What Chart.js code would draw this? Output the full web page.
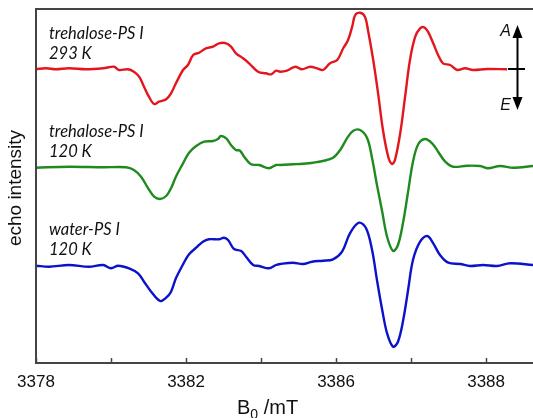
<!DOCTYPE html>
<html>
<head>
<meta charset="utf-8">
<script src="https://cdn.jsdelivr.net/npm/chart.js@4/dist/chart.umd.min.js"></script>
<style>
  html, body { margin: 0; padding: 0; background: #fff; overflow: hidden; }
  #wrap { width: 533px; height: 418px; }
</style>
</head>
<body>
<div id="wrap"><canvas id="chart" width="533" height="418"></canvas></div>
<script>
// field in mT, echo intensity (arbitrary units, relative to each trace's baseline)
var trehalose293 = [
  [3378.00, 0], [3378.27, 0.7], [3378.53, -0.3], [3378.88, 0.7], [3379.33, -0.3], [3379.79, 0.7],
  [3380.08, 2.3], [3380.21, -1], [3380.45, -0.3], [3380.61, -2.7], [3380.75, -7.7], [3380.88, -17.7],
  [3381.01, -27.7], [3381.15, -35], [3381.28, -32.7], [3381.47, -30.3], [3381.60, -24.3], [3381.73, -14.3],
  [3381.92, -1], [3382.05, 4], [3382.19, 14], [3382.35, 16.3], [3382.53, 20.7], [3382.72, 22.3],
  [3382.88, 25.7], [3383.07, 25.7], [3383.20, 22.3], [3383.33, 15.7], [3383.52, 10.7], [3383.68, 5.7],
  [3383.92, -2.7], [3384.13, -4.3], [3384.27, -5.3], [3384.40, -1.7], [3384.51, -2.7], [3384.69, -1.7],
  [3384.91, 2.3], [3385.09, -0.3], [3385.31, 2.3], [3385.49, 0.7], [3385.65, -1], [3385.84, 5.7],
  [3386.03, 9], [3386.19, 20.7], [3386.32, 29], [3386.43, 42.3], [3386.51, 54], [3386.64, 56.3],
  [3386.77, 52.3], [3386.85, 39], [3386.99, 9], [3387.12, -24.3], [3387.25, -61], [3387.39, -87.7],
  [3387.49, -95], [3387.57, -91], [3387.71, -64.3], [3387.84, -27.7], [3387.97, 9], [3388.11, 32.3],
  [3388.24, 40.7], [3388.35, 41.7], [3388.45, 37.3], [3388.59, 25.7], [3388.72, 14], [3388.85, 5.7],
  [3389.04, 4], [3389.23, -1], [3389.44, 0.7], [3389.65, -1], [3390.03, 0], [3390.56, -0.3]
];
var trehalose120 = [
  [3378.00, -0.7], [3378.88, 0.3], [3379.79, -0.3], [3380.40, -0.3], [3380.61, -3], [3380.80, -9.7],
  [3380.99, -21.3], [3381.15, -29.7], [3381.31, -32], [3381.47, -29], [3381.60, -21.3], [3381.73, -9.7],
  [3381.92, 3.7], [3382.08, 14.3], [3382.27, 21], [3382.48, 25.3], [3382.72, 26], [3382.85, 28],
  [3382.93, 31], [3383.07, 28.7], [3383.20, 22], [3383.33, 17], [3383.44, 16.3], [3383.55, 10.3],
  [3383.73, 2.7], [3383.95, 2], [3384.21, -1.3], [3384.40, 2], [3384.51, 2], [3384.85, 2.7],
  [3385.12, 3.3], [3385.39, 4.3], [3385.65, 6], [3385.92, 9.3], [3386.11, 17], [3386.29, 28.7],
  [3386.45, 36], [3386.64, 37], [3386.83, 28.7], [3386.96, 8.7], [3387.09, -18], [3387.23, -44.7],
  [3387.36, -69.7], [3387.52, -84], [3387.65, -78], [3387.79, -54.7], [3387.92, -24.7], [3388.05, 5.3],
  [3388.19, 22.7], [3388.37, 28], [3388.56, 23.7], [3388.72, 15.3], [3388.91, 5.3], [3389.12, 0.3],
  [3389.49, 1.3], [3389.84, 1], [3390.05, -1.3], [3390.37, 1], [3390.72, -0.7], [3391.25, 1]
];
var water120 = [
  [3378.00, -0.7], [3378.35, -1.7], [3378.88, 0], [3379.41, -1.7], [3379.79, 0], [3380.00, -3.3],
  [3380.19, -0.7], [3380.48, -3.3], [3380.72, -8.3], [3380.88, -16.7], [3381.07, -26.7], [3381.31, -36],
  [3381.47, -32.7], [3381.60, -26.7], [3381.73, -13.3], [3381.92, 0.7], [3382.08, 10.7], [3382.27, 17.3],
  [3382.45, 23.3], [3382.61, 25.7], [3382.88, 25.7], [3383.01, 27.3], [3383.12, 25], [3383.28, 16],
  [3383.47, 14], [3383.60, 8.3], [3383.79, 0], [3383.95, -1], [3384.21, -3.3], [3384.40, 0],
  [3384.51, 1], [3384.85, 2.3], [3385.12, 1], [3385.36, 3.3], [3385.65, 4.3], [3385.92, 5.7],
  [3386.16, 13.3], [3386.37, 31.7], [3386.61, 42.3], [3386.80, 36.7], [3386.96, 15], [3387.09, -15],
  [3387.23, -45], [3387.36, -68.3], [3387.52, -81.7], [3387.65, -76.7], [3387.79, -55], [3387.92, -25],
  [3388.05, 5], [3388.24, 23.3], [3388.43, 29], [3388.59, 21.7], [3388.77, 10], [3388.99, 2.3],
  [3389.31, 1], [3389.57, -1], [3389.92, 0], [3390.29, -1], [3390.64, 1.7], [3391.25, 0]
];

var seriesNames = ['trehalose-PS I', 'trehalose-PS I', 'water-PS I'];
var seriesTemps = ['293 K', '120 K', '120 K'];
var seriesColors = ['#e3161d', '#1f8a1f', '#0b12c9'];
var baselineOffsets = [294, 196, 98];

var tickValues = [3378, 3380, 3382, 3384, 3386, 3388, 3390];
var tickLabels = ['3378', '', '3382', '', '3386', '', '3388'];

function toPoints(arr, offset) {
    return arr.map(function(p){ return {x: p[0], y: p[1] + offset}; });
}

var decorations = {
    id: 'decorations',
    afterDraw: function(chart) {
        var ctx = chart.ctx;
        var area = chart.chartArea;
        var xs = chart.scales.x;
        var ys = chart.scales.y;
        ctx.save();

        // frame: left and top lines
        ctx.strokeStyle = '#444';
        ctx.lineWidth = 2;
        ctx.beginPath();
        ctx.moveTo(area.left, area.bottom);
        ctx.lineTo(area.left, area.top);
        ctx.lineTo(area.right + 2, area.top);
        ctx.stroke();

        // inward ticks on the field axis
        ctx.lineWidth = 1.5;
        tickValues.forEach(function(v){
            var px = Math.round(xs.getPixelForValue(v)) + 0.5;
            ctx.beginPath();
            ctx.moveTo(px, area.bottom);
            ctx.lineTo(px, area.bottom - 5);
            ctx.stroke();
        });

        // y title
        ctx.fillStyle = '#111';
        ctx.font = '19px "Liberation Sans", Arial, sans-serif';
        ctx.textAlign = 'center';
        ctx.textBaseline = 'middle';
        ctx.save();
        ctx.translate(16, 188);
        ctx.rotate(-Math.PI / 2);
        ctx.fillText('echo intensity', 0, 0);
        ctx.restore();

        // x title with subscript
        ctx.textAlign = 'left';
        ctx.textBaseline = 'alphabetic';
        var tx = 237, ty = 414;
        ctx.font = '20px "Liberation Sans", Arial, sans-serif';
        ctx.fillText('B', tx, ty);
        tx += ctx.measureText('B').width;
        ctx.font = '14px "Liberation Sans", Arial, sans-serif';
        ctx.fillText('0', tx, ty + 5);
        tx += ctx.measureText('0').width;
        ctx.font = '20px "Liberation Sans", Arial, sans-serif';
        ctx.fillText(' /mT', tx, ty);

        // trace labels
        ctx.fillStyle = '#111';
        ctx.font = 'italic 16.5px Lato, "Open Sans", sans-serif';
        baselineOffsets.forEach(function(off, i){
            var by = ys.getPixelForValue(off);
            ctx.fillText(seriesNames[i], 49, by - 30);
            ctx.fillText(seriesTemps[i], 49, by - 10);
        });

        // absorption / emission arrow
        var ax = 517.5;
        var ay = ys.getPixelForValue(baselineOffsets[0]);
        ctx.strokeStyle = '#000';
        ctx.fillStyle = '#000';
        ctx.lineWidth = 2;
        ctx.beginPath();
        ctx.moveTo(ax, 36);
        ctx.lineTo(ax, 98);
        ctx.moveTo(508, ay);
        ctx.lineTo(525, ay);
        ctx.stroke();
        ctx.beginPath();
        ctx.moveTo(ax, 25);
        ctx.lineTo(ax - 5, 38);
        ctx.lineTo(ax + 5, 38);
        ctx.closePath();
        ctx.fill();
        ctx.beginPath();
        ctx.moveTo(ax, 110);
        ctx.lineTo(ax - 5, 97);
        ctx.lineTo(ax + 5, 97);
        ctx.closePath();
        ctx.fill();
        ctx.font = 'italic 16px "Liberation Sans", Arial, sans-serif';
        ctx.textAlign = 'right';
        ctx.fillStyle = '#111';
        ctx.fillText('A', 511, 36);
        ctx.fillText('E', 511, 110);

        ctx.restore();
    }
};

var traces = [trehalose293, trehalose120, water120];

new Chart(document.getElementById('chart').getContext('2d'), {
    type: 'line',
    data: {
        datasets: traces.map(function(t, i){
            return {
                label: seriesNames[i] + ' ' + seriesTemps[i],
                data: toPoints(t, baselineOffsets[i]),
                borderColor: seriesColors[i],
                borderWidth: 2.4,
                pointRadius: 0,
                tension: 0.35,
                fill: false
            };
        })
    },
    options: {
        responsive: false,
        animation: false,
        devicePixelRatio: 1,
        layout: { padding: { left: 36, top: 9, right: 0, bottom: 0 } },
        plugins: { legend: { display: false }, tooltip: { enabled: false } },
        scales: {
            x: {
                type: 'linear',
                min: 3378,
                max: 3391.25,
                afterBuildTicks: function(scale){
                    scale.ticks = tickValues.map(function(v){ return {value: v}; });
                },
                afterFit: function(scale){ scale.height = 55; },
                ticks: {
                    autoSkip: false,
                    maxRotation: 0,
                    padding: 1,
                    color: '#111',
                    font: { family: '"Liberation Sans", Arial, sans-serif', size: 17 },
                    callback: function(v, i){ return tickLabels[i]; }
                },
                grid: { display: false },
                border: { display: true, color: '#444', width: 2 }
            },
            y: {
                display: false,
                min: 0,
                max: 354
            }
        }
    },
    plugins: [decorations]
});
</script>
</body>
</html>
